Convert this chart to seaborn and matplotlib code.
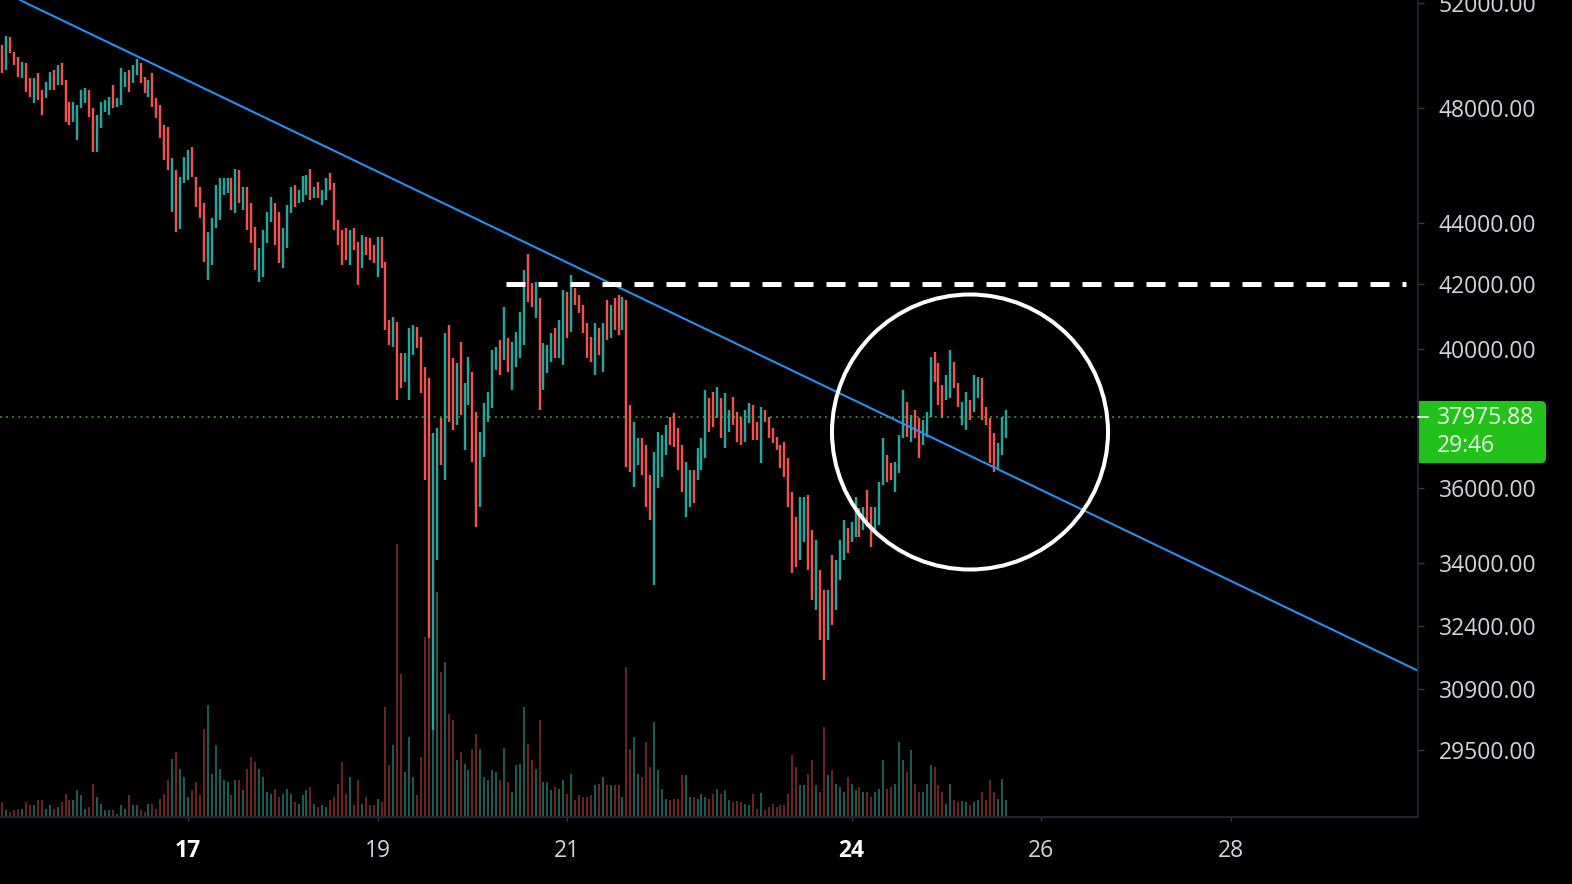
import numpy as np
import pandas as pd
import matplotlib
matplotlib.use("Agg")
import matplotlib.pyplot as plt
import seaborn as sns
from matplotlib.patches import Ellipse, FancyBboxPatch, Rectangle
from matplotlib.ticker import FixedLocator, NullLocator, FuncFormatter
from matplotlib.transforms import IdentityTransform

# ---------------- data (hourly BTC candles) ----------------
start_time = "2021-05-15 01:00"

highs = [
    50370, 50720, 50680, 50100, 49910, 49730, 49690, 49120, 49120, 49310,
    48680, 48970, 49350, 49420, 49610, 49690, 49050, 48240, 48240, 48130,
    48680, 48750, 48680, 48020, 47770, 48240, 48310, 48420, 48860, 48390,
    49500, 49350, 49420, 49610, 49840, 49690, 49160, 49050, 49310, 48390,
    48130, 47400, 47330, 46230, 45810, 45570, 46260, 46510, 46620, 45570,
    45220, 44680, 43710, 44170, 45290, 45530, 45530, 45530, 45530, 45840,
    45810, 45220, 45220, 44680, 43870, 43180, 43770, 44380, 44880, 44680,
    44380, 43840, 44610, 45220, 45290, 45120, 45600, 45640, 45840, 45220,
    45400, 45120, 45530, 45710, 45360, 44100, 43770, 43840, 43770, 43840,
    43380, 43610, 43540, 43510, 43280, 43540, 43540, 42720, 40880, 40980,
    40820, 39870, 39870, 40640, 40730, 40670, 40360, 39450, 39120, 37530,
    37670, 37950, 40480, 40730, 39720, 39570, 40210, 38970, 39750, 39300,
    38130, 37550, 38390, 38710, 39960, 40050, 40270, 41290, 40330, 40210,
    40510, 41130, 42470, 42980, 42050, 42080, 41570, 40180, 40110, 40480,
    40640, 40880, 41820, 41760, 42300, 41890, 41670, 41350, 40790, 40360,
    40790, 40640, 40790, 41510, 41350, 41570, 41670, 41600, 41510, 38330,
    37840, 37380, 37380, 37190, 36350, 36990, 37550, 37470, 37750, 37980,
    38100, 37670, 37190, 36710, 36490, 36490, 37100, 37380, 38770, 38540,
    38710, 38860, 38540, 38680, 38180, 38570, 38130, 37980, 38180, 38390,
    38330, 37840, 38270, 38180, 37980, 37670, 37410, 37190, 37270, 36820,
    35880, 35210, 35740, 35740, 35800, 34860, 34600, 33820, 33310, 33310,
    34210, 34080, 34600, 35130, 34910, 35070, 35740, 35450, 35480, 35930,
    35480, 35480, 36150, 37380, 36900, 36680, 36710, 37470, 38770, 38420,
    38040, 38180, 37950, 37900, 38130, 39750, 39900, 39570, 38920, 39210,
    39960, 39600, 38970, 38420, 38710, 38480, 39210, 39150, 39120, 38270,
    37950, 37530, 37240, 37980, 38180,
]

lows = [
    49310, 49420, 50070, 49610, 49160, 49120, 48610, 48420, 48200, 48310,
    47770, 48390, 48680, 48680, 48860, 48860, 47510, 47400, 47510, 46870,
    48020, 48200, 47690, 46440, 46440, 47300, 47870, 47770, 48020, 48050,
    48130, 48790, 48610, 48940, 49240, 48940, 48570, 48420, 48050, 47660,
    46940, 46160, 45810, 44380, 43710, 43800, 45360, 45470, 45570, 44540,
    44170, 42720, 42140, 42630, 43840, 44100, 44950, 45020, 44440, 44340,
    44680, 44440, 43770, 43340, 42460, 42080, 42240, 43340, 44040, 43280,
    42690, 42530, 43180, 44340, 44540, 44680, 44710, 44950, 44780, 44850,
    44850, 44610, 44780, 45120, 43770, 43280, 42630, 42790, 42630, 43110,
    41980, 42530, 42950, 42790, 42690, 42240, 42530, 40570, 40110, 40050,
    38480, 38830, 39000, 38480, 39810, 40020, 38680, 36210, 32120, 29950,
    34080, 36630, 36210, 37840, 37610, 37750, 38040, 37040, 38330, 36710,
    34940, 35480, 36850, 37840, 38240, 39360, 39210, 39660, 39300, 38770,
    39450, 39720, 40110, 41450, 41290, 40950, 38180, 38770, 39270, 39600,
    39720, 39720, 39510, 40330, 40510, 41350, 41100, 40480, 39720, 39600,
    39210, 39810, 39300, 40270, 40330, 40580, 40420, 40580, 36570, 36430,
    36010, 36630, 36350, 35480, 35130, 33440, 35990, 36290, 36900, 37190,
    37130, 36490, 35880, 35210, 35480, 35580, 36210, 36490, 36820, 37550,
    37700, 37950, 37380, 37100, 37550, 37750, 37270, 37190, 37270, 37810,
    37330, 37330, 36680, 37840, 37380, 37240, 37040, 36540, 36290, 35480,
    33740, 33900, 34080, 34550, 33820, 33060, 32810, 32070, 31110, 32070,
    32440, 32810, 33570, 34080, 34260, 34550, 34680, 34680, 34860, 34940,
    34420, 34860, 34990, 36070, 36150, 36210, 35880, 36400, 37380, 37410,
    37270, 37380, 36820, 37190, 37410, 37980, 39000, 38330, 37950, 38480,
    38540, 38830, 38270, 37750, 37610, 37900, 38130, 38540, 37900, 37750,
    36680, 36430, 36490, 36900, 37380,
]

# 1 = rising (teal) candle, 0 = falling (red) candle
is_up = [
    0, 1, 0, 0, 0, 1, 0, 0, 1, 0,
    0, 1, 1, 0, 1, 0, 0, 0, 1, 1,
    1, 1, 0, 0, 1, 1, 1, 1, 0, 1,
    1, 1, 0, 1, 1, 0, 0, 1, 0, 0,
    0, 0, 0, 1, 0, 1, 1, 1, 0, 0,
    0, 0, 1, 1, 1, 1, 1, 1, 0, 1,
    0, 1, 0, 0, 0, 1, 1, 1, 1, 0,
    0, 1, 1, 1, 0, 1, 1, 1, 0, 1,
    0, 1, 1, 0, 0, 0, 0, 0, 1, 0,
    0, 1, 0, 0, 0, 1, 0, 0, 0, 1,
    0, 0, 1, 1, 1, 0, 0, 0, 0, 1,
    1, 0, 1, 0, 0, 1, 0, 1, 1, 0,
    0, 1, 1, 1, 1, 1, 0, 1, 0, 1,
    1, 1, 1, 0, 0, 1, 0, 1, 1, 1,
    0, 1, 1, 0, 1, 0, 0, 0, 0, 0,
    1, 0, 1, 0, 1, 0, 0, 1, 0, 0,
    1, 1, 0, 0, 0, 1, 1, 1, 1, 0,
    0, 0, 0, 1, 1, 0, 1, 1, 1, 0,
    0, 1, 0, 1, 1, 0, 0, 0, 1, 1,
    0, 0, 1, 0, 0, 0, 0, 0, 0, 0,
    0, 0, 1, 1, 0, 0, 1, 0, 0, 1,
    0, 1, 1, 1, 0, 1, 1, 0, 1, 0,
    0, 1, 1, 1, 0, 0, 1, 1, 1, 0,
    1, 0, 0, 1, 1, 1, 0, 0, 0, 1,
    1, 0, 0, 1, 1, 0, 1, 1, 0, 0,
    0, 0, 1, 1, 1,
]

volumes = [
    1500, 700, 500, 700, 800, 800, 1500, 1200, 1200, 1700,
    1700, 800, 1200, 800, 1000, 1500, 2300, 1700, 1700, 2700,
    2200, 800, 1000, 3300, 2000, 1300, 700, 700, 700, 300,
    1200, 800, 2200, 1200, 1200, 700, 500, 1300, 1300, 800,
    1800, 2300, 3700, 5800, 6500, 4800, 4000, 2000, 2700, 3500,
    2200, 8800, 11200, 4300, 7200, 4800, 3700, 3500, 2200, 3700,
    3700, 2700, 4800, 6000, 5500, 4800, 4000, 2500, 2300, 2800,
    2000, 2300, 2800, 2300, 1500, 1300, 2200, 2700, 3000, 1300,
    1000, 1200, 1000, 1700, 2000, 3300, 5500, 2300, 4000, 1200,
    3700, 1300, 2000, 1200, 1200, 1800, 1500, 11000, 5200, 7200,
    27300, 14300, 4500, 8000, 4000, 2200, 6000, 18000, 33000, 20000,
    22500, 14500, 15500, 10300, 9700, 5700, 6500, 5300, 4700, 6800,
    8300, 6800, 4000, 3700, 4700, 4500,
    3700, 6900, 3500, 2500, 5200, 5300, 11000, 7300, 5700, 4800,
    9700, 3500, 3500, 2700, 3000, 2800, 3700, 2300, 4300, 1700,
    2200, 2000, 2000, 2200, 3200, 3300, 4000, 3200, 3200, 3200,
    3200, 2000, 15000, 6800, 8000, 4300, 4000, 7500, 5000, 9500,
    4700, 2800, 1800, 1700, 1800, 1800, 4200, 4200, 2000, 2000,
    1800, 2300, 2000, 1800, 2300, 2800, 2300, 2700, 1700, 1500,
    1600, 1500, 1300, 1200, 2300, 800, 2400, 700, 1000, 1300,
    1000, 1200, 1200, 2300, 6200, 5000, 3200, 3200, 4300, 5700,
    3200, 2500, 9000, 4200, 4700, 3300, 3000, 2500, 4000, 3300,
    2700, 3000, 2500, 2500, 2000, 2500, 2800, 5700, 2800, 3000,
    3300, 7500, 5700, 4500, 6700, 3300, 2500, 2500, 3300, 5200,
    5000, 3200, 2500, 1300, 3300, 1700, 1500, 1600, 1500, 1200,
    1500, 1700, 2500, 1700, 3700, 2500, 1800, 3800, 1700,
]

last_price = 37975.88
countdown = "29:46"

price_ticks = [29500, 30900, 32400, 34000, 36000, 40000, 42000, 44000, 48000, 52000]
day_ticks = [17, 19, 21, 24, 26, 28]
bold_days = [17, 24]

# drawings on the chart (day-of-month, price)
trend_days = [15.226, 30.0]
trend_prices = [52118, 31300]
resistance_price = 42000
resistance_days = [20.35, 29.85]

# ---------------- style ----------------
BG = "black"
UP = "#26a69a"
DOWN = "#ef5350"
VOL_UP = "#23776e"
VOL_DOWN = "#8a2e2c"
AXIS = "#1f2333"
TXT = "#d1d4dc"

sns.set_theme(style="dark")
plt.rcParams["font.family"] = ["Open Sans", "DejaVu Sans"]

W, H = 1572, 884
fig = plt.figure(figsize=(W / 100, H / 100), dpi=100, facecolor=BG)
plot_right, plot_bottom = 1418, 817
px_per_day = 94.8
rect = [0, (H - plot_bottom) / H, plot_right / W, plot_bottom / H]
axv = fig.add_axes(rect, zorder=0)
ax = fig.add_axes(rect, zorder=1)
ax.set_facecolor("none")

times = pd.date_range(start_time, periods=len(highs), freq="h")
xday = np.asarray(times.day + times.hour / 24.0, dtype=float)
hi = np.asarray(highs, float)
lo = np.asarray(lows, float)
up = np.asarray(is_up, bool)
vol = np.asarray(volumes, float)

xlim = (17 - 188 / px_per_day, 17 + (plot_right - 188) / px_per_day)

# volume
axv.vlines(xday[up], 0, vol[up], colors=VOL_UP, lw=1.1)
axv.vlines(xday[~up], 0, vol[~up], colors=VOL_DOWN, lw=1.1)
axv.set_xlim(xlim)
axv.set_ylim(0, 81700)
axv.axis("off")

# candles
ax.set_yscale("log")
ax.vlines(xday[up], lo[up], hi[up], colors=UP, lw=1.75)
ax.vlines(xday[~up], lo[~up], hi[~up], colors=DOWN, lw=1.75)

# trend line and resistance
sns.lineplot(x=trend_days, y=trend_prices, ax=ax, color="#2690f2", lw=1.5,
             legend=False)
sns.lineplot(x=resistance_days, y=[resistance_price] * 2, ax=ax, color="white",
             lw=3.6, legend=False)
ax.lines[-1].set_dashes((3.8, 2.6))
ax.lines[-1].set_dash_capstyle("butt")

# last price dotted line
ax.axhline(last_price, color="#3fae3a", lw=1.1, ls=(0, (1.2, 2.8)))

# circle
ax.add_patch(Ellipse((970 / plot_right, 1 - 432 / plot_bottom),
                     276 / plot_right, 275 / plot_bottom,
                     transform=ax.transAxes, fill=False, ec="white", lw=2.9,
                     zorder=5))

ax.set_xlim(xlim)
ax.set_ylim(28036, 52118)
ax.grid(False)

ax.yaxis.tick_right()
ax.yaxis.set_major_locator(FixedLocator(price_ticks))
ax.yaxis.set_minor_locator(NullLocator())
ax.yaxis.set_major_formatter(FuncFormatter(lambda v, p: f"{v:.2f}"))
ax.set_xticks(day_ticks)
ax.set_xticklabels([str(d) for d in day_ticks])
ax.xaxis.set_minor_locator(NullLocator())

ax.tick_params(axis="y", which="major", right=True, left=False, length=4,
               width=1, color="#363a45", pad=11, labelsize=16.5, labelcolor=TXT)
ax.tick_params(axis="x", which="major", bottom=True, length=3, width=1,
               color="#363a45", pad=13, labelsize=16.5, labelcolor=TXT)
for lab, d in zip(ax.get_xticklabels(), day_ticks):
    if d in bold_days:
        lab.set_fontweight("bold")
        lab.set_color("white")

for s in ["left", "top"]:
    ax.spines[s].set_visible(False)
for s in ["right", "bottom"]:
    ax.spines[s].set_visible(True)
    ax.spines[s].set_color(AXIS)
    ax.spines[s].set_linewidth(1.5)
ax.set_xlabel("")
ax.set_ylabel("")

# last price label on the price scale (pixel coordinates, origin bottom-left)
ident = IdentityTransform()
box_green = "#22c21b"
box_bottom, box_h, box_w = H - 463, 62, 128
fig.add_artist(FancyBboxPatch((plot_right, box_bottom), box_w, box_h,
                              boxstyle="round,pad=0,rounding_size=5",
                              transform=ident, fc=box_green, ec="none"))
fig.add_artist(Rectangle((plot_right, box_bottom), 12, box_h, transform=ident,
                         fc=box_green, ec="none"))
fig.add_artist(plt.Line2D([plot_right, plot_right + 10],
                          [H - 417, H - 417], transform=ident,
                          color="#e6f7e2", lw=1.3))
fig.text(1437, H - 418, f"{last_price:.2f}", transform=ident, fontsize=16.5,
         color="#eefbea", va="center", ha="left")
fig.text(1437, H - 446, countdown, transform=ident, fontsize=16.5,
         color="#eefbea", va="center", ha="left")

fig.savefig("out.png", dpi=100, facecolor=BG)
